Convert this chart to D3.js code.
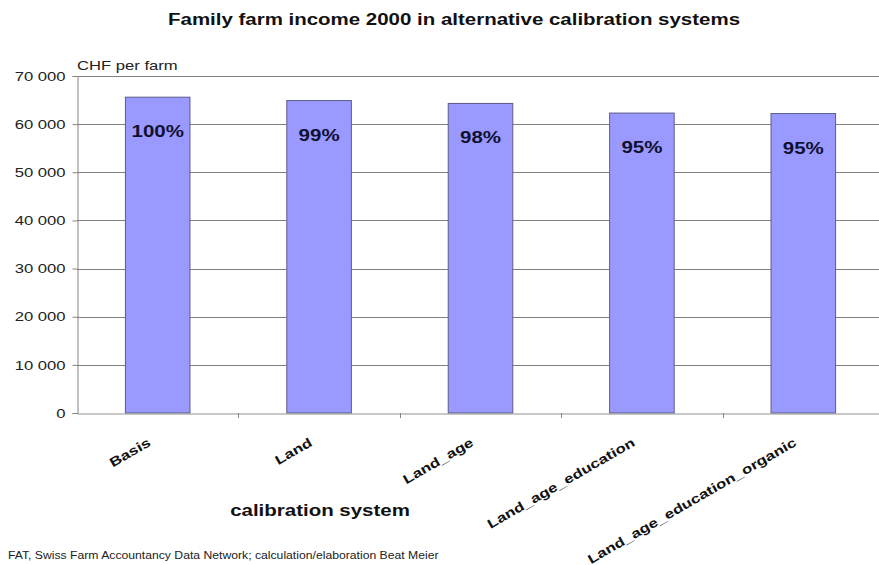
<!DOCTYPE html>
<html>
<head>
<meta charset="utf-8">
<script src="https://cdn.jsdelivr.net/npm/d3@7"></script>
<style>
  body { margin: 0; background: #fff; }
  svg { display: block; font-family: "Liberation Sans", Arial, sans-serif; }
</style>
</head>
<body>
<div id="chart"></div>
<script>
// Chart data
const categories = ["Basis", "Land", "Land_age", "Land_age_education", "Land_age_education_organic"];
const incomes = [65600, 64900, 64300, 62300, 62200];
const shareLabels = ["100%", "99%", "98%", "95%", "95%"];
const yTicks = [0, 10000, 20000, 30000, 40000, 50000, 60000, 70000];

const width = 879, height = 565;
const margin = { top: 76, right: -5, bottom: 152, left: 77 };
const SX = 1.28; // the source picture is stretched sideways, so text is too

const svg = d3.select("#chart").append("svg")
  .attr("width", width)
  .attr("height", height);

const x = d3.scaleBand()
  .domain(categories)
  .range([margin.left, width - margin.right]);

const y = d3.scaleLinear()
  .domain([0, 70000])
  .range([height - margin.bottom, margin.top]);

const fmt = d => d3.format(",")(d).replace(/,/g, " ");

// place a text at (px,py) with the horizontal stretch
function label(g, px, py, txt, size, opts = {}) {
  return g.append("text")
    .attr("transform", `translate(${px},${py}) ${opts.rotate ? `rotate(${opts.rotate})` : ""} scale(${opts.sx || SX},1)`)
    .attr("text-anchor", opts.anchor || "start")
    .style("font-size", size + "px")
    .style("font-weight", opts.bold ? "bold" : "normal")
    .style("fill", opts.fill || "#111")
    .text(txt);
}

// Gridlines
svg.append("g")
  .selectAll("line")
  .data(yTicks.filter(d => d > 0))
  .join("line")
  .attr("x1", margin.left)
  .attr("x2", width)
  .attr("y1", d => Math.round(y(d)) + 0.5)
  .attr("y2", d => Math.round(y(d)) + 0.5)
  .attr("stroke", "#808080")
  .attr("stroke-width", 1);

// Bars
const barW = x.bandwidth() * 0.4;
svg.append("g")
  .selectAll("rect")
  .data(categories)
  .join("rect")
  .attr("x", d => x(d) + (x.bandwidth() - barW) / 2)
  .attr("y", (d, i) => y(incomes[i]))
  .attr("width", barW)
  .attr("height", (d, i) => y(0) - y(incomes[i]))
  .attr("fill", "#9999ff")
  .attr("stroke", "#5c5c8a")
  .attr("stroke-width", 1);

// Percent labels inside bars
const pct = svg.append("g");
categories.forEach((c, i) => {
  label(pct, x(c) + x.bandwidth() / 2, y(incomes[i]) + 40, shareLabels[i], 16,
    { anchor: "middle", bold: true, fill: "#101030" });
});

// Y axis
const yAxis = svg.append("g")
  .attr("transform", `translate(${margin.left + 0.5},0)`)
  .call(d3.axisLeft(y).tickValues(yTicks).tickFormat(fmt).tickSize(5).tickPadding(6));
yAxis.select(".domain").attr("stroke", "#858585");
yAxis.selectAll(".tick line").attr("stroke", "#858585");
yAxis.selectAll(".tick text")
  .attr("x", null)
  .attr("transform", `translate(-12,0) scale(${SX},1)`)
  .style("font-size", "13px")
  .style("fill", "#222");

// X axis
const xAxis = svg.append("g")
  .attr("transform", `translate(0,${y(0) + 0.5})`)
  .call(d3.axisBottom(x).tickSize(0).tickFormat(""));
xAxis.select(".domain").attr("stroke", "#909090");
xAxis.selectAll(".tick").remove();

// Category separators on x axis
svg.append("g")
  .selectAll("line")
  .data(categories.slice(1))
  .join("line")
  .attr("x1", d => Math.round(x(d)) + 0.5)
  .attr("x2", d => Math.round(x(d)) + 0.5)
  .attr("y1", y(0))
  .attr("y2", y(0) + 5)
  .attr("stroke", "#858585");

// Rotated category labels
const cats = svg.append("g");
categories.forEach(c => {
  label(cats, x(c) + x.bandwidth() / 2 - 6, y(0) + 32, c, 13,
    { anchor: "end", bold: true, rotate: -30, sx: 1.3 });
});

// Title
label(svg, 454, 25, "Family farm income 2000 in alternative calibration systems", 16,
  { anchor: "middle", bold: true });

// Y unit label
label(svg, 77, 70, "CHF per farm", 13, { fill: "#222" });

// X axis title
label(svg, 320, 516, "calibration system", 16, { anchor: "middle", bold: true });

// Source note
label(svg, 8, 559, "FAT, Swiss Farm Accountancy Data Network; calculation/elaboration Beat Meier", 10,
  { fill: "#222", sx: 1.22 });
</script>
</body>
</html>
